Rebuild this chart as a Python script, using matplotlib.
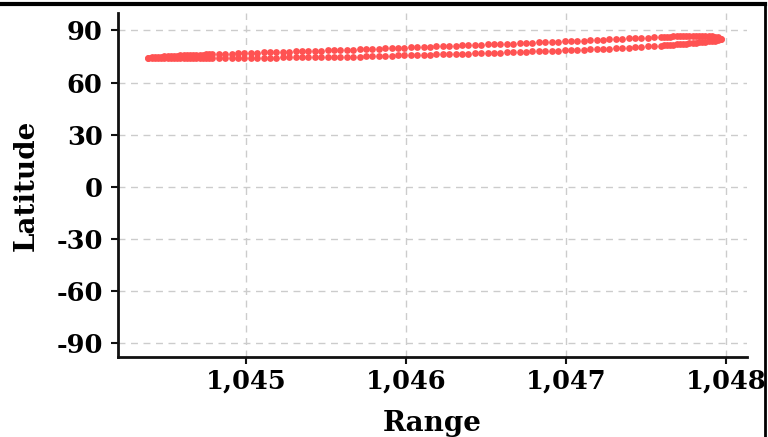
import matplotlib
matplotlib.use("Agg")
import matplotlib.pyplot as plt
from matplotlib.ticker import FuncFormatter
from matplotlib.lines import Line2D

# range positions of the dots (shared by both branches of the loop)
ranges = [
    1044.39, 1044.41, 1044.43, 1044.45, 1044.47, 1044.49, 1044.51, 1044.53, 1044.55, 1044.57,
    1044.59, 1044.61, 1044.63, 1044.65, 1044.67, 1044.69, 1044.71, 1044.73, 1044.75, 1044.77,
    1044.79,
    1044.83, 1044.87, 1044.91, 1044.95, 1044.99, 1045.03, 1045.07, 1045.11, 1045.15, 1045.19,
    1045.23, 1045.27, 1045.31, 1045.35, 1045.39, 1045.43, 1045.47, 1045.51, 1045.55, 1045.59,
    1045.63, 1045.67, 1045.71, 1045.75, 1045.79, 1045.83, 1045.87, 1045.91, 1045.95, 1045.99,
    1046.03, 1046.07, 1046.11, 1046.15, 1046.19, 1046.23, 1046.27, 1046.31, 1046.35, 1046.39,
    1046.43, 1046.47, 1046.51, 1046.55, 1046.59, 1046.63, 1046.67, 1046.71, 1046.75, 1046.79,
    1046.83, 1046.87, 1046.91, 1046.95, 1046.99, 1047.03, 1047.07, 1047.11, 1047.15, 1047.19,
    1047.23, 1047.27, 1047.31, 1047.35, 1047.39, 1047.43, 1047.47, 1047.51, 1047.55, 1047.59,
    1047.61, 1047.63, 1047.65, 1047.67, 1047.69, 1047.71, 1047.73, 1047.75, 1047.77, 1047.79,
    1047.81, 1047.83, 1047.85, 1047.87, 1047.89, 1047.91, 1047.93, 1047.95, 1047.97,
]

# upper branch latitude
lat_upper = [
    74.3, 74.6, 74.8, 74.9, 75.0, 75.1, 75.2, 75.3, 75.4, 75.5,
    75.6, 75.6, 75.7, 75.8, 75.9, 75.9, 76.0, 76.1, 76.2, 76.2,
    76.3,
    76.4, 76.6, 76.7, 76.9, 77.0, 77.2, 77.3, 77.4, 77.5, 77.6,
    77.7, 77.8, 77.9, 78.0, 78.1, 78.3, 78.4, 78.5, 78.6, 78.7,
    78.9, 79.0, 79.1, 79.3, 79.4, 79.6, 79.7, 79.8, 80.0, 80.1,
    80.3, 80.4, 80.6, 80.7, 80.9, 81.0, 81.1, 81.3, 81.4, 81.6,
    81.7, 81.8, 82.0, 82.1, 82.3, 82.4, 82.5, 82.7, 82.8, 83.0,
    83.1, 83.2, 83.4, 83.5, 83.7, 83.8, 84.0, 84.2, 84.3, 84.5,
    84.7, 84.9, 85.0, 85.2, 85.4, 85.5, 85.7, 85.9, 86.0, 86.2,
    86.3, 86.4, 86.5, 86.6, 86.7, 86.7, 86.8, 86.9, 86.9, 87.0,
    87.0, 87.1, 87.1, 87.0, 86.9, 86.7, 86.5, 86.1, 85.3,
]

# lower branch latitude
lat_lower = [
    74.3, 74.1, 74.0, 74.0, 74.0, 74.0, 74.0, 74.0, 74.0, 74.0,
    74.0, 74.0, 74.0, 74.1, 74.1, 74.1, 74.1, 74.1, 74.1, 74.1,
    74.1,
    74.1, 74.2, 74.2, 74.2, 74.3, 74.3, 74.3, 74.4, 74.4, 74.4,
    74.5, 74.5, 74.5, 74.6, 74.6, 74.6, 74.7, 74.7, 74.8, 74.8,
    74.9, 75.0, 75.0, 75.1, 75.2, 75.3, 75.4, 75.5, 75.6, 75.7,
    75.8, 75.9, 76.0, 76.1, 76.2, 76.3, 76.4, 76.5, 76.6, 76.7,
    76.8, 76.9, 77.0, 77.1, 77.3, 77.4, 77.5, 77.6, 77.7, 77.9,
    78.0, 78.1, 78.2, 78.4, 78.5, 78.6, 78.8, 78.9, 79.1, 79.3,
    79.4, 79.6, 79.8, 80.0, 80.2, 80.4, 80.6, 80.8, 81.1, 81.3,
    81.5, 81.6, 81.8, 81.9, 82.1, 82.2, 82.4, 82.5, 82.7, 82.8,
    83.0, 83.1, 83.3, 83.5, 83.7, 83.9, 84.2, 84.5, 85.0,
]

yticks = [-90, -60, -30, 0, 30, 60, 90]
xticks = [1045, 1046, 1047, 1048]

plt.rcParams['axes.unicode_minus'] = False
plt.rcParams['font.family'] = ['DejaVu Serif']
plt.rcParams['font.weight'] = 'bold'

fig = plt.figure(figsize=(7.68, 4.37), dpi=100)
ax = fig.add_axes([0.1536, 0.183, 0.819, 0.787])

ax.scatter(ranges, lat_upper, s=24, color='#ff5252', linewidths=0, zorder=3)
ax.scatter(ranges, lat_lower, s=24, color='#ff5252', linewidths=0, zorder=3)

ax.set_xlim(1044.2, 1048.13)
ax.set_ylim(-98, 100)
ax.set_xticks(xticks)
ax.set_yticks(yticks)
ax.xaxis.set_major_formatter(FuncFormatter(lambda v, p: "{:,.0f}".format(v)))

ax.grid(True, color='#cccccc', linestyle=(0, (5, 4)), linewidth=1, zorder=0)
for s in ['top', 'right']:
    ax.spines[s].set_visible(False)
for s in ['left', 'bottom']:
    ax.spines[s].set_linewidth(2)
    ax.spines[s].set_color('#111111')

ax.tick_params(axis='both', length=5, width=1.5, color='#111111', labelsize=18.5)
ax.tick_params(axis='y', pad=6)
ax.tick_params(axis='x', pad=3)

ax.set_xlabel('Range', fontsize=20, fontweight='bold', labelpad=12)
ax.set_ylabel('Latitude', fontsize=20, fontweight='bold', labelpad=12)

# frame lines at the top and right of the picture
fig.add_artist(Line2D([0, 765 / 768], [1 - 4 / 437, 1 - 4 / 437], color='black', lw=3, transform=fig.transFigure))
fig.add_artist(Line2D([765 / 768, 765 / 768], [0, 1 - 4 / 437], color='black', lw=2, transform=fig.transFigure))

fig.savefig('out.png', dpi=100)
